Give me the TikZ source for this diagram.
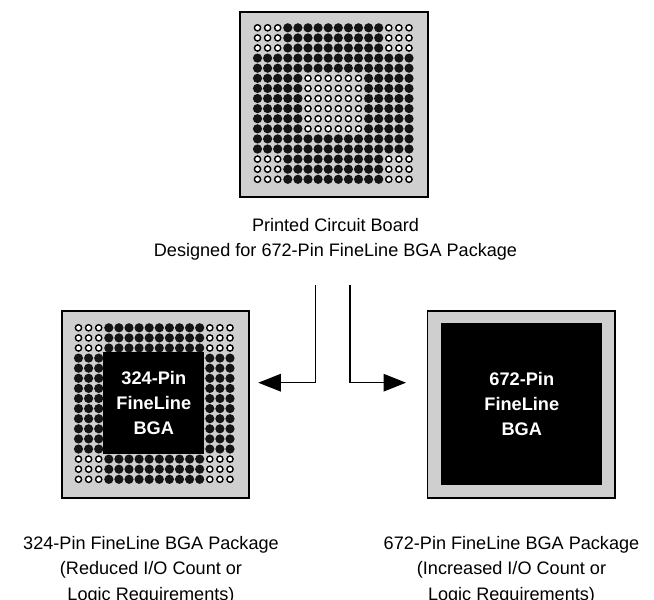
\documentclass[tikz,border=0pt]{standalone}
\usepackage{fontspec}
\setmainfont{Liberation Sans}
\usetikzlibrary{arrows.meta}
\definecolor{boardgrey}{HTML}{CFCFCF}
\definecolor{balldark}{HTML}{141414}
\tikzset{
  board/.style={draw=black,line width=1.6pt,fill=boardgrey,inner sep=0pt,minimum width=#1},
  chip/.style={fill=black,inner sep=0pt,text=white,align=center,
    font=\bfseries\fontsize{18.2}{25}\selectfont},
  caption/.style={align=center,inner sep=0pt,font=\fontsize{18.1}{25.6}\selectfont},
  solidball/.style={fill=balldark},
  openball/.style={draw=black,line width=1.4pt,fill=white},
  conn/.style={line width=1.5pt,-{Triangle[length=22.5pt,width=17.5pt]}}
}
\newcommand{\ballgrid}[3]{%
  \foreach \r in {0,...,15}{\foreach \c in {0,...,15}{%
    \pgfmathtruncatemacro{\isopen}{((\c<3 || \c>12) && (\r<3 || \r>12)) || (#3==1 && \c>4 && \c<11 && \r>4 && \r<11) ? 1 : 0}%
    \ifnum\isopen=1
      \draw[openball] ({#1+10.1*\c},{#2+10.1*\r}) circle (3.1pt);
    \else
      \fill[solidball] ({#1+10.1*\c},{#2+10.1*\r}) circle (4.6pt);
    \fi
  }}}
\begin{document}
\begin{tikzpicture}[x=1pt,y=-1pt]
\useasboundingbox (0,0) rectangle (654,600);
% top board
\node[board=188pt,minimum height=185pt] (pcb) at (334,104.5) {};
\ballgrid{257.5}{27.8}{1}
\node[caption] (pcbtext) at (335.5,239.5) {Printed Circuit Board\\Designed for 672-Pin FineLine BGA Package};
% left package
\node[board=186.5pt,minimum height=187pt] (left) at (155.5,404.5) {};
\ballgrid{78.5}{327.8}{0}
\node[chip,minimum width=101pt,minimum height=102.5pt] (leftchip) at (153.8,403) {324-Pin\\FineLine\\BGA};
\node[caption] (lefttext) at (151,570) {324-Pin FineLine BGA Package\\(Reduced I/O Count or\\Logic Requirements)};
% right package
\node[board=187.5pt,minimum height=187pt] (right) at (521.3,404.5) {};
\node[chip,minimum width=161pt,minimum height=161.5pt] (rightchip) at (521.8,404.2) {672-Pin\\FineLine\\BGA};
\node[caption] (righttext) at (511.5,570) {672-Pin FineLine BGA Package\\(Increased I/O Count or\\Logic Requirements)};
% connectors
\coordinate (startL) at (315.5,285);
\coordinate (tipL) at (258.3,382.7);
\coordinate (startR) at (350,285);
\coordinate (tipR) at (406,382.7);
\draw[conn] (startL) |- (tipL);
\draw[conn] (startR) |- (tipR);
\end{tikzpicture}
\end{document}
